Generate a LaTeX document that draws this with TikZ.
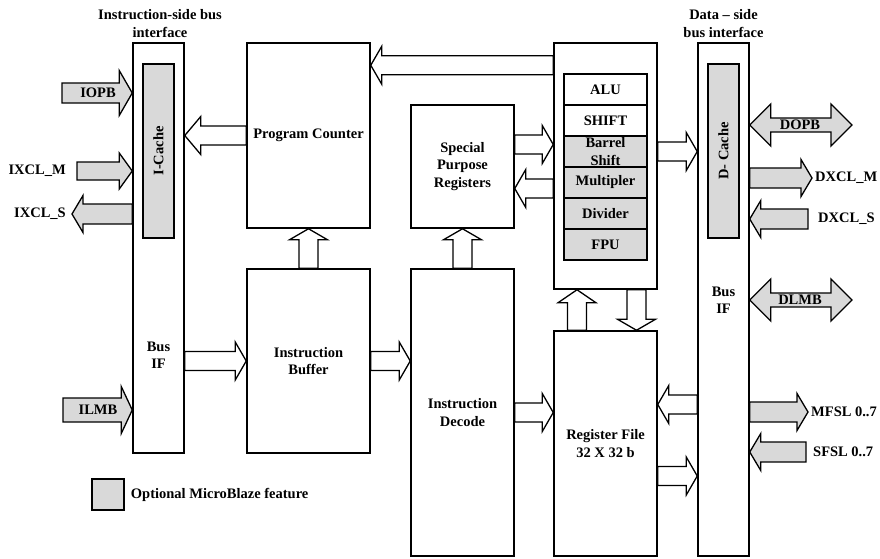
\documentclass[tikz,border=0pt]{standalone}
\usepackage{fontspec}
\setmainfont{Liberation Serif}
\definecolor{optgray}{RGB}{217,217,217}
\usetikzlibrary{positioning, calc}

\begin{document}
\begin{tikzpicture}[x=1pt, y=-1pt,
  box/.style={draw, line width=1.5pt, minimum width=103pt, align=center, inner sep=0pt,
              font=\bfseries\fontsize{14.5}{17.5}\selectfont},
  opt/.style={box, fill=optgray},
  unit/.style={box, minimum width=83pt, minimum height=31pt},
  lbl/.style={align=center, inner sep=0pt, font=\bfseries\fontsize{14.5}{17.5}\selectfont},
  shaftw/.store in=\fsw, headw/.store in=\fhw, headl/.store in=\fhl,
  fat/.style={draw, line width=1.3pt, fill=white, shaftw=9.5, headw=19, headl=11,
    to path={let \p1=(\tikztostart), \p2=(\tikztotarget),
      \n1={veclen(\x2-\x1,\y2-\y1)}, \n2={(\x2-\x1)/\n1}, \n3={(\y2-\y1)/\n1} in
      ({\x1-\fsw*(\n3)},{\y1+\fsw*(\n2)})
      -- ({\x2-\fhl*(\n2)-\fsw*(\n3)},{\y2-\fhl*(\n3)+\fsw*(\n2)})
      -- ({\x2-\fhl*(\n2)-\fhw*(\n3)},{\y2-\fhl*(\n3)+\fhw*(\n2)})
      -- (\x2,\y2)
      -- ({\x2-\fhl*(\n2)+\fhw*(\n3)},{\y2-\fhl*(\n3)-\fhw*(\n2)})
      -- ({\x2-\fhl*(\n2)+\fsw*(\n3)},{\y2-\fhl*(\n3)-\fsw*(\n2)})
      -- ({\x1+\fsw*(\n3)},{\y1-\fsw*(\n2)}) -- cycle}},
  gfat/.style={fat, fill=optgray, shaftw=10, headw=18.5, headl=11},
  dfat/.style={draw, line width=1.3pt, fill=optgray, shaftw=7, headw=21, headl=21,
    to path={let \p1=(\tikztostart), \p2=(\tikztotarget),
      \n1={veclen(\x2-\x1,\y2-\y1)}, \n2={(\x2-\x1)/\n1}, \n3={(\y2-\y1)/\n1} in
      (\x1,\y1)
      -- ({\x1+\fhl*(\n2)-\fhw*(\n3)},{\y1+\fhl*(\n3)+\fhw*(\n2)})
      -- ({\x1+\fhl*(\n2)-\fsw*(\n3)},{\y1+\fhl*(\n3)+\fsw*(\n2)})
      -- ({\x2-\fhl*(\n2)-\fsw*(\n3)},{\y2-\fhl*(\n3)+\fsw*(\n2)})
      -- ({\x2-\fhl*(\n2)-\fhw*(\n3)},{\y2-\fhl*(\n3)+\fhw*(\n2)})
      -- (\x2,\y2)
      -- ({\x2-\fhl*(\n2)+\fhw*(\n3)},{\y2-\fhl*(\n3)-\fhw*(\n2)})
      -- ({\x2-\fhl*(\n2)+\fsw*(\n3)},{\y2-\fhl*(\n3)-\fsw*(\n2)})
      -- ({\x1+\fhl*(\n2)+\fsw*(\n3)},{\y1+\fhl*(\n3)-\fsw*(\n2)})
      -- ({\x1+\fhl*(\n2)+\fhw*(\n3)},{\y1+\fhl*(\n3)-\fhw*(\n2)}) -- cycle}}
]
  \useasboundingbox (0,0) rectangle (880,558);

  \node[lbl] (itl) at (160,23.5) {Instruction-side bus\\interface};
  \node[lbl] (dtl) at (723.5,23.5) {Data -- side\\bus interface};

  \node[box, minimum width=51pt, minimum height=410pt] (ib) at (158.5,248) {};
  \node[opt, rotate=90, minimum width=174pt, minimum height=31pt] (ic) at (158.5,151) {I-Cache};
  \node[lbl] (ibif) at (158.5,355) {Bus\\IF};

  \node[box, minimum width=123pt, minimum height=185pt] (pc) at (308.5,135.5) {Program Counter};
  \node[box, minimum width=123pt, minimum height=184pt] (ibuf) at (308.5,361) {Instruction\\Buffer};
  \node[box, minimum height=123pt] (spr) at (462.5,166.5) {Special\\Purpose\\Registers};
  \node[box, minimum height=287pt] (id) at (462.5,412.5) {Instruction\\Decode};

  \node[box, minimum height=246pt] (eu) at (605.5,166) {};
  \node[unit] (alu) at (605.5,89.5) {ALU};
  \node[unit] (shift) at (605.5,120.5) {SHIFT};
  \node[unit, fill=optgray] (barrel) at (605.5,151.5) {Barrel\\Shift};
  \node[unit, fill=optgray] (mult) at (605.5,182.5) {Multipler};
  \node[unit, fill=optgray] (div) at (605.5,213.5) {Divider};
  \node[unit, fill=optgray] (fpu) at (605.5,244.5) {FPU};
  \node[box, minimum height=225pt] (rf) at (605.5,443.5) {Register File\\32 X 32 b};

  \node[box, minimum width=51pt, minimum height=513pt] (db) at (723.5,299.5) {};
  \node[opt, rotate=90, minimum width=174pt, minimum height=31pt] (dc) at (723.5,151) {D- Cache};
  \node[lbl] (dbif) at (723.5,300) {Bus\\IF};

  \draw[fat, headl=16] (pc.west) to (ib.east |- pc.west);
  \draw[fat] ($(eu.north west)+(0,23)$) to ($(pc.north east)+(0,23)$);
  \draw[fat] ($(spr.east)+(0,-22)$) to ($(eu.west |- spr.east)+(0,-22)$);
  \draw[fat] ($(eu.west |- spr.east)+(0,22)$) to ($(spr.east)+(0,22)$);
  \draw[fat] (ibuf.north) to (pc.south);
  \draw[fat] (id.north) to (spr.south);
  \draw[fat] (ib.east |- ibuf.west) to (ibuf.west);
  \draw[fat] (ibuf.east) to (id.west |- ibuf.east);
  \draw[fat] (id.east) to (rf.west |- id.east);
  \draw[fat, headl=13] ($(rf.north)+(-28.5,0)$) to ($(eu.south)+(-28.5,0)$);
  \draw[fat] ($(eu.south)+(31,0)$) to ($(rf.north)+(31,0)$);
  \draw[fat] (barrel.east -| eu.east) to (barrel.east -| db.west);
  \draw[fat] ($(db.west |- rf.east)+(0,-39)$) to ($(rf.east)+(0,-39)$);
  \draw[fat] ($(rf.east)+(0,32.5)$) to ($(db.west |- rf.east)+(0,32.5)$);

  \coordinate (iopb) at (62,93);
  \draw[gfat, shaftw=10, headw=22.5, headl=13] (iopb) to (ib.west |- iopb);
  \node[lbl] (iopbt) at (98,93) {IOPB};
  \node[lbl, anchor=east] (ixclm) at (66,171) {IXCL\_M};
  \draw[gfat, shaftw=9, headw=18, headl=13] ([xshift=11pt]ixclm.east) to (ib.west |- ixclm.east);
  \node[lbl, anchor=east] (ixcls) at (66,214) {IXCL\_S};
  \draw[gfat] (ib.west |- ixcls.east) to ([xshift=6pt]ixcls.east);
  \coordinate (ilmb) at (63,410);
  \draw[gfat, shaftw=12, headw=23.5] (ilmb) to (ib.west |- ilmb);
  \node[lbl] (ilmbt) at (98,410) {ILMB};

  \coordinate (dopb) at (852,125);
  \draw[dfat] (db.east |- dopb) to (dopb);
  \node[lbl] (dopbt) at (800,125) {DOPB};
  \node[lbl, anchor=west] (dxclm) at (815,178) {DXCL\_M};
  \draw[gfat] (db.east |- dxclm.west) to ([xshift=-3pt]dxclm.west);
  \node[lbl, anchor=west] (dxcls) at (818,219) {DXCL\_S};
  \draw[gfat] ([xshift=-10pt]dxcls.west) to (db.east |- dxcls.west);
  \coordinate (dlmb) at (852,300);
  \draw[dfat] (db.east |- dlmb) to (dlmb);
  \node[lbl] (dlmbt) at (800,300) {DLMB};
  \node[lbl, anchor=west] (mfsl) at (811,412) {MFSL 0..7};
  \draw[gfat] (db.east |- mfsl.west) to ([xshift=-3pt]mfsl.west);
  \node[lbl, anchor=west] (sfsl) at (813,452) {SFSL 0..7};
  \draw[gfat] ([xshift=-7pt]sfsl.west) to (db.east |- sfsl.west);

  \node[opt, minimum width=32pt, minimum height=31pt] (key) at (108,494.5) {};
  \node[lbl, right=6pt of key] (keytxt) {Optional MicroBlaze feature};
\end{tikzpicture}
\end{document}
